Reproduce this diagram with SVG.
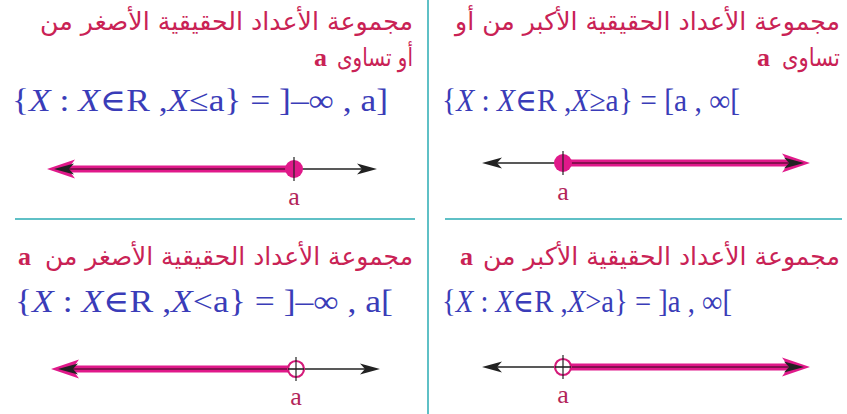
<svg xmlns="http://www.w3.org/2000/svg" xmlns:xlink="http://www.w3.org/1999/xlink" width="847" height="414" viewBox="0 0 847 414">
<style>
.ar{font-family:"DejaVu Sans","Noto Sans",sans-serif;font-size:25px;fill:#c92255;text-anchor:end}
.ab{font-family:"Liberation Serif",serif;font-size:26px;font-weight:bold;fill:#c92255}
.fm{font-family:"Liberation Serif","DejaVu Serif",serif;font-size:31px;fill:#3a3cb8}
.fm .x{font-style:italic}
.lbl{font-family:"Liberation Serif",serif;font-size:26px;fill:#b3245a;text-anchor:middle}
.div{stroke:#5fc0c6;stroke-width:2;fill:none}
.ax{stroke:#222;stroke-width:1.6;fill:none}
.mg{stroke:#e0198a;stroke-width:7;fill:none}
.core{stroke:#6a0c3e;stroke-width:1.6;fill:none}
.tick{stroke:#222;stroke-width:1.2}
.open{fill:#fff;stroke:#d41a7a;stroke-width:2.2}
.dot{fill:#e0198a}
</style>
<defs>
<path id="bh" d="M0,0 L-20,-5.5 L-15,0 L-20,5.5 Z" fill="#222"/>
<path id="mh" d="M0,0 L-28,-9.5 L-21,0 L-28,9.5 Z" fill="#e0198a"/>
</defs>
<g id="dividers">
<line class="div" x1="428" y1="0" x2="428" y2="414"/>
<line class="div" x1="15" y1="219" x2="415" y2="219"/>
<line class="div" x1="445" y1="219" x2="842" y2="219"/>
</g>
<g id="tl">
<text class="ar" x="413" y="30" textLength="373" lengthAdjust="spacingAndGlyphs">مجموعة الأعداد الحقيقية الأصغر من</text>
<text class="ar" x="413" y="66" textLength="76" lengthAdjust="spacingAndGlyphs">أو تساوى</text>
<text class="ab" x="314" y="66">a</text>
<text class="fm" x="12" y="111" textLength="376" lengthAdjust="spacingAndGlyphs">{<tspan class="x">X</tspan> : <tspan class="x">X</tspan>∈R ,<tspan class="x">X</tspan>≤a} = ]–∞ , a]</text>
<line class="ax" x1="60" y1="169" x2="362" y2="169"/>
<line class="mg" x1="62" y1="169" x2="294" y2="169"/>
<line class="core" x1="62" y1="169" x2="294" y2="169"/>
<use href="#mh" transform="translate(47,169) rotate(180)"/>
<use href="#bh" transform="translate(54,169) rotate(180)"/>
<use href="#bh" transform="translate(377,169)"/>
<circle class="dot" cx="294" cy="169" r="9"/>
<line class="tick" x1="294" y1="157" x2="294" y2="181"/>
<text class="lbl" x="294" y="205">a</text>
</g>
<g id="tr">
<text class="ar" x="840" y="30" textLength="385" lengthAdjust="spacingAndGlyphs">مجموعة الأعداد الحقيقية الأكبر من أو</text>
<text class="ar" x="840" y="66" textLength="58" lengthAdjust="spacingAndGlyphs">تساوى</text>
<text class="ab" x="757" y="66">a</text>
<text class="fm" x="442" y="111" textLength="298" lengthAdjust="spacingAndGlyphs">{<tspan class="x">X</tspan> : <tspan class="x">X</tspan>∈R ,<tspan class="x">X</tspan>≥a} = [a , ∞[</text>
<line class="ax" x1="490" y1="163" x2="795" y2="163"/>
<line class="mg" x1="563" y1="163" x2="792" y2="163"/>
<line class="core" x1="563" y1="163" x2="792" y2="163"/>
<use href="#mh" transform="translate(810,163)"/>
<use href="#bh" transform="translate(804,163)"/>
<use href="#bh" transform="translate(482,163) rotate(180)"/>
<circle class="dot" cx="563" cy="163" r="9"/>
<line class="tick" x1="563" y1="151" x2="563" y2="175"/>
<text class="lbl" x="563" y="200">a</text>
</g>
<g id="bl">
<text class="ar" x="413" y="265" textLength="368" lengthAdjust="spacingAndGlyphs">مجموعة الأعداد الحقيقية الأصغر من</text>
<text class="ab" x="18" y="265">a</text>
<text class="fm" x="15" y="312" textLength="378" lengthAdjust="spacingAndGlyphs">{<tspan class="x">X</tspan> : <tspan class="x">X</tspan>∈R ,<tspan class="x">X</tspan>&lt;a} = ]–∞ , a[</text>
<line class="ax" x1="64" y1="369" x2="365" y2="369"/>
<line class="mg" x1="66" y1="369" x2="288" y2="369"/>
<line class="core" x1="66" y1="369" x2="288" y2="369"/>
<use href="#mh" transform="translate(51,369) rotate(180)"/>
<use href="#bh" transform="translate(58,369) rotate(180)"/>
<use href="#bh" transform="translate(380,369)"/>
<circle class="open" cx="296" cy="369" r="8"/>
<line class="ax" x1="288" y1="369" x2="304" y2="369"/>
<line class="tick" x1="296" y1="357" x2="296" y2="381"/>
<text class="lbl" x="296" y="405">a</text>
</g>
<g id="br">
<text class="ar" x="840" y="265" textLength="357" lengthAdjust="spacingAndGlyphs">مجموعة الأعداد الحقيقية الأكبر من</text>
<text class="ab" x="460" y="265">a</text>
<text class="fm" x="442" y="312" textLength="290" lengthAdjust="spacingAndGlyphs">{<tspan class="x">X</tspan> : <tspan class="x">X</tspan>∈R ,<tspan class="x">X</tspan>&gt;a} = ]a , ∞[</text>
<line class="ax" x1="490" y1="367" x2="795" y2="367"/>
<line class="mg" x1="571" y1="367" x2="792" y2="367"/>
<line class="core" x1="571" y1="367" x2="792" y2="367"/>
<use href="#mh" transform="translate(810,367)"/>
<use href="#bh" transform="translate(804,367)"/>
<use href="#bh" transform="translate(482,367) rotate(180)"/>
<circle class="open" cx="563" cy="367" r="8"/>
<line class="ax" x1="555" y1="367" x2="571" y2="367"/>
<line class="tick" x1="563" y1="355" x2="563" y2="379"/>
<text class="lbl" x="563" y="403">a</text>
</g>
</svg>
